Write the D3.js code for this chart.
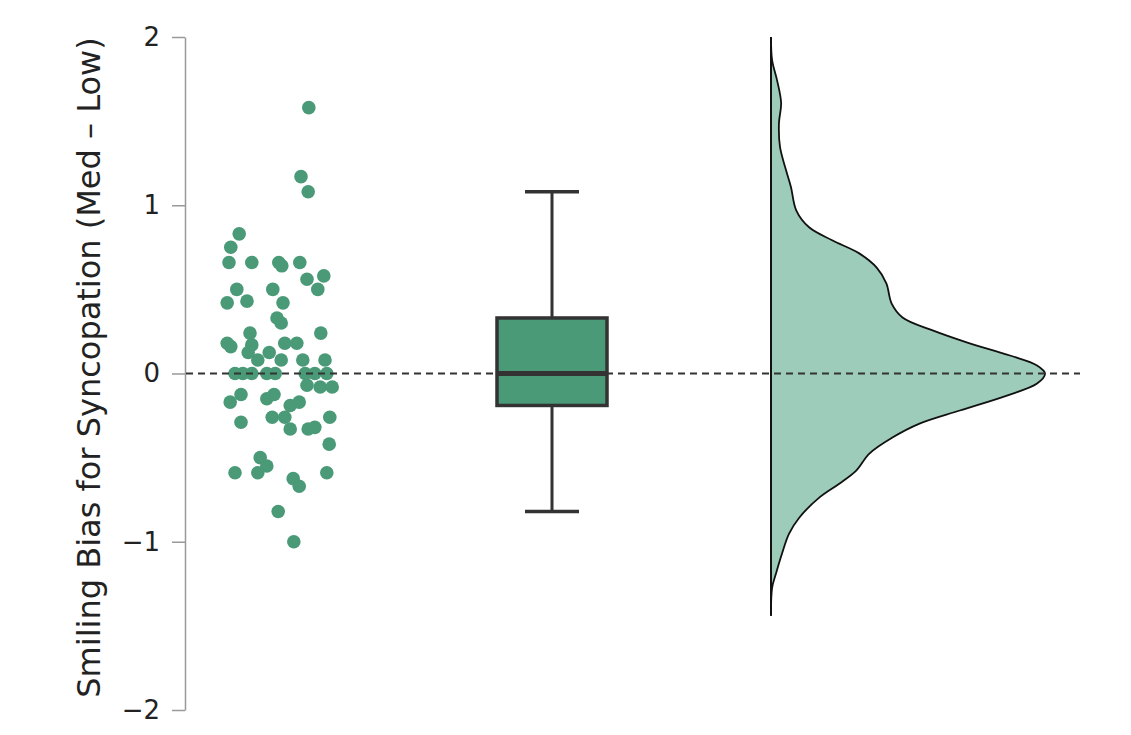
<!DOCTYPE html>
<html lang="en">
<head>
  <meta charset="utf-8">
  <title>Smiling Bias for Syncopation</title>
  <script src="https://cdn.jsdelivr.net/npm/d3@7"></script>
  <style>
    body { margin: 0; background: #fff; }
    .axis text { font-family: "DejaVu Sans", sans-serif; font-size: 26px; fill: #222; }
    .axis path, .axis line { stroke: #999; stroke-width: 1.5px; }
  </style>
</head>
<body>
<script>
// participant scores (Med - Low)
var scores = [1.58, 1.17, 1.08, 0.83, 0.75, 0.66, 0.66, 0.66, 0.64, 0.66,
  0.58, 0.56, 0.50, 0.50, 0.42, 0.43, 0.50, 0.42, 0.33, 0.30,
  0.24, 0.24, 0.18, 0.16, 0.17, 0.125, 0.125, 0.18, 0.18, 0.08,
  0.08, 0.08, 0.08, 0, 0, 0, 0, 0, 0, 0,
  0, -0.07, -0.08, -0.08, -0.17, -0.125, -0.15, -0.125, -0.19, -0.17,
  -0.26, -0.26, -0.29, -0.33, -0.33, -0.32, -0.26, -0.42, -0.50, -0.55,
  -0.59, -0.59, -0.59, -0.625, -0.67, -0.82, -1.0];
// horizontal jitter for each score, -1..1
var jitter = [0.48, 0.35, 0.47, -0.68, -0.82, -0.85, -0.47, -0.02, 0.03, 0.33,
  0.73, 0.45, 0.63, -0.72, -0.88, -0.55, -0.12, 0.05, -0.05, 0.02,
  -0.5, 0.68, -0.88, -0.82, -0.47, -0.53, -0.18, 0.08, 0.28, -0.37,
  0.02, 0.38, 0.75, -0.75, -0.62, -0.47, -0.22, -0.08, 0.42, 0.58,
  0.78, 0.45, 0.67, 0.87, -0.83, -0.65, -0.22, -0.1, 0.17, 0.32,
  -0.13, 0.08, -0.65, 0.17, 0.47, 0.58, 0.83, 0.82, -0.33, -0.22,
  -0.37, -0.75, 0.78, 0.22, 0.32, -0.03, 0.23];

// box plot: lower whisker, q1, median, q3, upper whisker
var boxStats = [-0.82, -0.19, 0, 0.33, 1.08];

// density curve (value, relative density)
var densValue = [2.0, 1.863, 1.744, 1.607, 1.488, 1.345, 1.208, 1.107, 0.970, 0.869,
  0.792, 0.714, 0.631, 0.536, 0.417, 0.333, 0.256, 0.185, 0.107, 0.048,
  0, -0.060, -0.131, -0.220, -0.298, -0.381, -0.476, -0.577, -0.655, -0.738,
  -0.857, -0.952, -1.071, -1.190, -1.274, -1.44];
var densHeight = [0, 0.004, 0.022, 0.037, 0.029, 0.033, 0.055, 0.073, 0.092, 0.139,
  0.223, 0.322, 0.385, 0.421, 0.440, 0.480, 0.590, 0.714, 0.872, 0.971,
  1, 0.971, 0.861, 0.689, 0.542, 0.443, 0.359, 0.311, 0.249, 0.176,
  0.103, 0.066, 0.040, 0.018, 0.004, 0];

var yTicks = [-2, -1, 0, 1, 2];

var w = 1131, h = 735;
var dotColor = "#4a9a78";

var svg = d3.select("body").append("svg")
  .attr("width", w)
  .attr("height", h);

svg.append("rect").attr("width", w).attr("height", h).attr("fill", "#fff");

var y = d3.scaleLinear().domain([-2, 2]).range([710, 37]);
var xJit = d3.scaleLinear().domain([-1, 1]).range([220, 340]);
var boxCenter = 552, boxWidth = 110, capWidth = 54;
var densBase = 771;
var xDens = d3.scaleLinear().domain([0, 1]).range([densBase, densBase + 274]);

// axis
svg.append("g")
  .attr("class", "axis")
  .attr("transform", "translate(185,0)")
  .call(d3.axisLeft(y).tickValues(yTicks).tickFormat(d3.format("d"))
    .tickSize(13).tickSizeOuter(0).tickPadding(12));

svg.append("text")
  .attr("transform", "translate(100," + (y(0) - 6) + ") rotate(-90)")
  .attr("text-anchor", "middle")
  .style("font-family", "DejaVu Sans, sans-serif")
  .style("font-size", "32px")
  .style("fill", "#222")
  .text("Smiling Bias for Syncopation (Med \u2013 Low)");

// points
svg.append("g").selectAll("circle")
  .data(scores)
  .enter()
  .append("circle")
  .attr("cx", function(d, i) { return xJit(jitter[i]); })
  .attr("cy", function(d) { return y(d); })
  .attr("r", 6.8)
  .style("fill", dotColor);

// box plot
var box = svg.append("g").style("stroke", "#333");
box.append("line")
  .attr("x1", boxCenter).attr("x2", boxCenter)
  .attr("y1", y(boxStats[0])).attr("y2", y(boxStats[4]))
  .style("stroke-width", 3);
[boxStats[0], boxStats[4]].forEach(function(v) {
  box.append("line")
    .attr("x1", boxCenter - capWidth / 2).attr("x2", boxCenter + capWidth / 2)
    .attr("y1", y(v)).attr("y2", y(v))
    .style("stroke-width", 3.5);
});
box.append("rect")
  .attr("x", boxCenter - boxWidth / 2)
  .attr("y", y(boxStats[3]))
  .attr("width", boxWidth)
  .attr("height", y(boxStats[1]) - y(boxStats[3]))
  .style("fill", dotColor)
  .style("stroke-width", 3.5);
box.append("line")
  .attr("x1", boxCenter - boxWidth / 2).attr("x2", boxCenter + boxWidth / 2)
  .attr("y1", y(boxStats[2])).attr("y2", y(boxStats[2]))
  .style("stroke-width", 5);

// density
var dens = densValue.map(function(v, i) { return { v: v, d: densHeight[i] }; });
var area = d3.area()
  .y(function(d) { return y(d.v); })
  .x0(densBase)
  .x1(function(d) { return xDens(d.d); })
  .curve(d3.curveCatmullRom);
svg.append("path")
  .datum(dens)
  .attr("d", area)
  .style("fill", "#9dccba");
var line = d3.line()
  .y(function(d) { return y(d.v); })
  .x(function(d) { return xDens(d.d); })
  .curve(d3.curveCatmullRom);
svg.append("path")
  .datum(dens)
  .attr("d", line)
  .style("fill", "none")
  .style("stroke", "#111")
  .style("stroke-width", 1.8);
svg.append("line")
  .attr("x1", densBase).attr("x2", densBase)
  .attr("y1", y(densValue[0])).attr("y2", y(densValue[densValue.length - 1]))
  .style("stroke", "#111")
  .style("stroke-width", 2);

// zero reference
svg.append("line")
  .attr("x1", 186).attr("x2", 1080)
  .attr("y1", y(0)).attr("y2", y(0))
  .style("stroke", "#333")
  .style("stroke-width", 2)
  .style("stroke-dasharray", "7,5");
</script>
</body>
</html>
